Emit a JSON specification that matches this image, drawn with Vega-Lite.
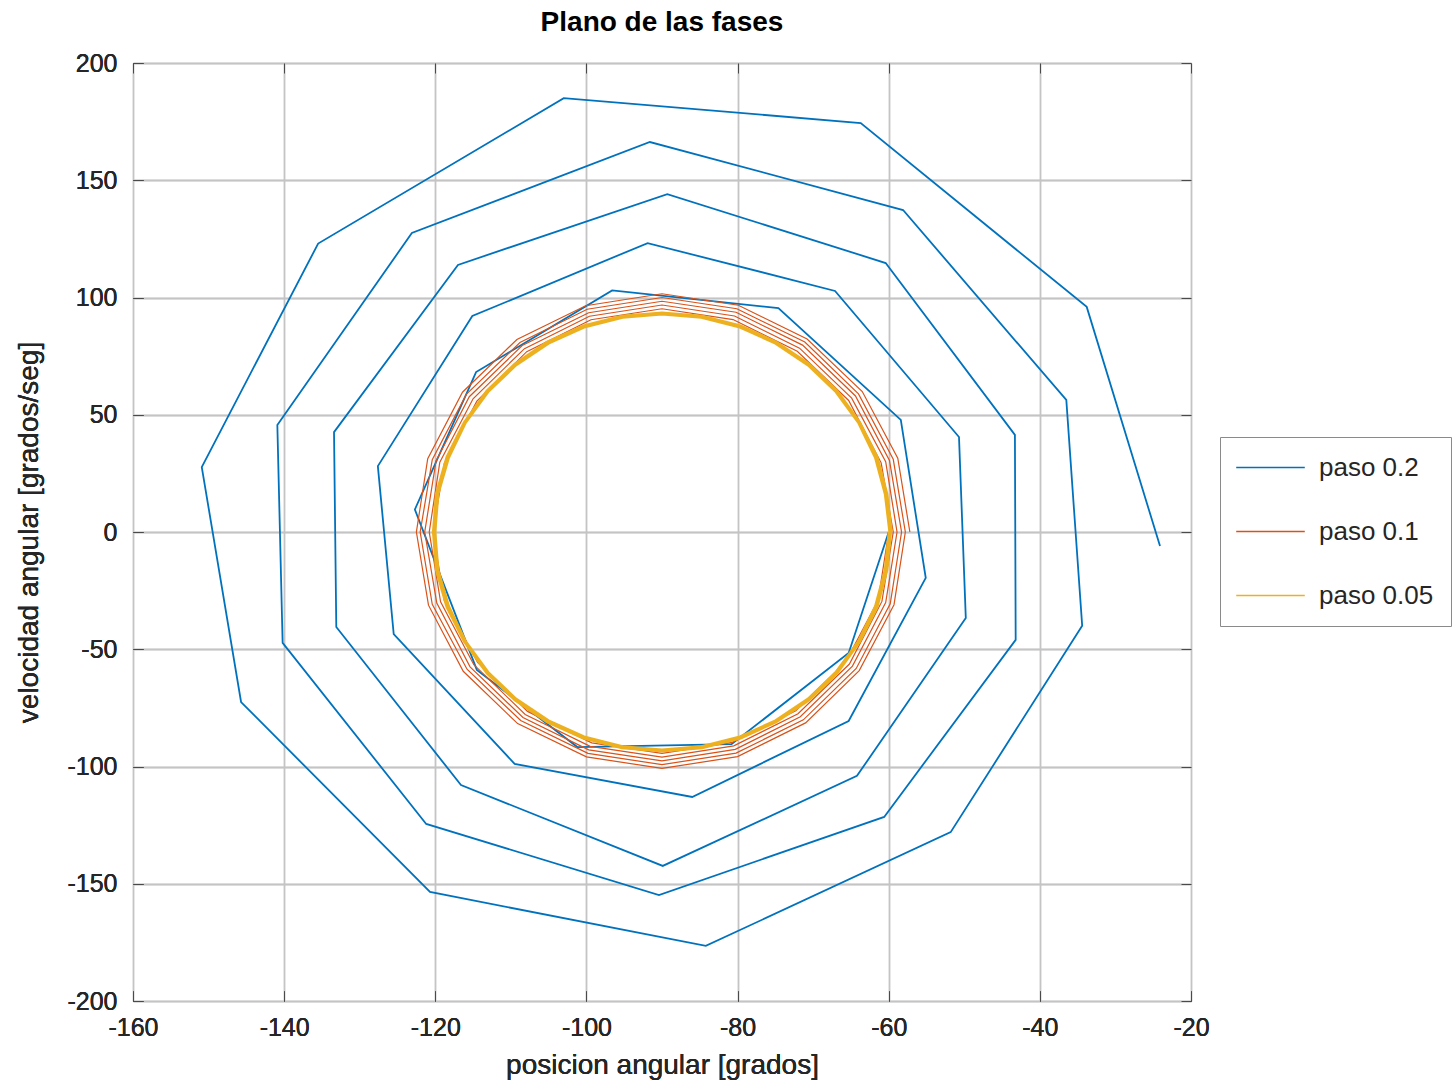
{
  "$schema": "https://vega.github.io/schema/vega-lite/v6.json",
  "width": 1058,
  "height": 938,
  "autosize": {"type": "none"},
  "padding": {"left": 133, "top": 63, "right": 265, "bottom": 80},
  "background": "white",
  "title": {"text": "Plano de las fases", "fontSize": 28, "fontWeight": "bold", "font": "Liberation Sans", "color": "#000000", "anchor": "middle", "frame": "group", "baseline": "alphabetic", "offset": 0, "dy": 8},
  "config": {
    "view": {"stroke": "#4a4a4a", "strokeWidth": 1},
    "axis": {"labelFont": "Liberation Sans", "titleFont": "Liberation Sans", "labelFontSize": 25, "labelColor": "#262626", "titleColor": "#262626", "titleFontSize": 28, "titleFontWeight": "normal", "gridColor": "#c4c4c4", "gridWidth": 1.3, "gridOpacity": 1, "tickColor": "#4a4a4a", "domain": false, "labelFlush": false, "labelExpr": "replace(datum.label, '−', '-')"},
    "legend": {"labelFont": "Liberation Sans"}
  },
  "datasets": {
    "blue": [
      {"i":0,"x":-60,"y":0},{"i":1,"x":-65.3,"y":-51.6},{"i":2,"x":-80.8,"y":-90.5},{"i":3,"x":-101.2,"y":-91.7},{"i":4,"x":-114.5,"y":-58.8},{"i":5,"x":-122.7,"y":9.6},{"i":6,"x":-114.6,"y":68.2},{"i":7,"x":-96.6,"y":103},{"i":8,"x":-74.6,"y":95.5},{"i":9,"x":-58.4,"y":47.8},{"i":10,"x":-55.1,"y":-19.6},{"i":11,"x":-65.3,"y":-80.6},{"i":12,"x":-86,"y":-113},{"i":13,"x":-109.5,"y":-98.9},{"i":14,"x":-125.5,"y":-43.5},{"i":15,"x":-127.6,"y":28.1},{"i":16,"x":-115.1,"y":92.1},{"i":17,"x":-91.9,"y":123.2},{"i":18,"x":-67.1,"y":102.8},{"i":19,"x":-50.7,"y":40.5},{"i":20,"x":-49.8,"y":-36.7},{"i":21,"x":-64.2,"y":-104},{"i":22,"x":-89.9,"y":-142.4},{"i":23,"x":-116.6,"y":-107.9},{"i":24,"x":-133.1,"y":-40.5},{"i":25,"x":-133.4,"y":42.6},{"i":26,"x":-117,"y":113.9},{"i":27,"x":-89.3,"y":144.1},{"i":28,"x":-60.4,"y":114.7},{"i":29,"x":-43.3,"y":41.4},{"i":30,"x":-43.2,"y":-46},{"i":31,"x":-60.6,"y":-121.5},{"i":32,"x":-90.4,"y":-154.8},{"i":33,"x":-121.2,"y":-124.5},{"i":34,"x":-140.2,"y":-47.3},{"i":35,"x":-140.9,"y":45.6},{"i":36,"x":-123.1,"y":127.5},{"i":37,"x":-91.6,"y":166.3},{"i":38,"x":-58.1,"y":137.3},{"i":39,"x":-36.5,"y":56.3},{"i":40,"x":-34.4,"y":-40},{"i":41,"x":-51.8,"y":-128},{"i":42,"x":-84.2,"y":-176.5},{"i":43,"x":-120.7,"y":-153.5},{"i":44,"x":-145.7,"y":-72.5},{"i":45,"x":-150.9,"y":27.7},{"i":46,"x":-135.5,"y":123},{"i":47,"x":-103,"y":185},{"i":48,"x":-63.7,"y":174.4},{"i":49,"x":-33.8,"y":96},{"i":50,"x":-24.1,"y":-6}
    ],
    "orange": [
      {"i":0,"x":-60.0,"y":0},{"i":1,"x":-61.4,"y":-29.1},{"i":2,"x":-65.7,"y":-55.4},{"i":3,"x":-72.3,"y":-76.2},{"i":4,"x":-80.7,"y":-89.7},{"i":5,"x":-90,"y":-94.4},{"i":6,"x":-99.3,"y":-89.9},{"i":7,"x":-107.8,"y":-76.5},{"i":8,"x":-114.4,"y":-55.6},{"i":9,"x":-118.8,"y":-29.3},
      {"i":10,"x":-120.3,"y":0},{"i":11,"x":-118.8,"y":29.3},{"i":12,"x":-114.5,"y":55.8},{"i":13,"x":-107.9,"y":76.9},{"i":14,"x":-99.4,"y":90.5},{"i":15,"x":-90,"y":95.2},{"i":16,"x":-80.6,"y":90.6},{"i":17,"x":-72.1,"y":77.1},{"i":18,"x":-65.3,"y":56.1},{"i":19,"x":-61.0,"y":29.5},
      {"i":20,"x":-59.4,"y":0},{"i":21,"x":-60.9,"y":-29.6},{"i":22,"x":-65.2,"y":-56.3},{"i":23,"x":-72.0,"y":-77.5},{"i":24,"x":-80.5,"y":-91.2},{"i":25,"x":-90,"y":-96.0},{"i":26,"x":-99.5,"y":-91.4},{"i":27,"x":-108.1,"y":-77.8},{"i":28,"x":-114.9,"y":-56.6},{"i":29,"x":-119.3,"y":-29.8},
      {"i":30,"x":-120.8,"y":0},{"i":31,"x":-119.4,"y":29.8},{"i":32,"x":-115.0,"y":56.8},{"i":33,"x":-108.2,"y":78.2},{"i":34,"x":-99.6,"y":92.0},{"i":35,"x":-90,"y":96.8},{"i":36,"x":-80.4,"y":92.1},{"i":37,"x":-71.8,"y":78.4},{"i":38,"x":-64.9,"y":57.1},{"i":39,"x":-60.4,"y":30.0},
      {"i":40,"x":-58.9,"y":0},{"i":41,"x":-60.4,"y":-30.1},{"i":42,"x":-64.8,"y":-57.2},{"i":43,"x":-71.7,"y":-78.8},{"i":44,"x":-80.3,"y":-92.7},{"i":45,"x":-90,"y":-97.6},{"i":46,"x":-99.7,"y":-92.9},{"i":47,"x":-108.4,"y":-79.1},{"i":48,"x":-115.4,"y":-57.5},{"i":49,"x":-119.8,"y":-30.3},
      {"i":50,"x":-121.4,"y":0},{"i":51,"x":-119.9,"y":30.3},{"i":52,"x":-115.5,"y":57.7},{"i":53,"x":-108.5,"y":79.5},{"i":54,"x":-99.7,"y":93.5},{"i":55,"x":-90,"y":98.4},{"i":56,"x":-80.2,"y":93.7},{"i":57,"x":-71.4,"y":79.7},{"i":58,"x":-64.4,"y":58.0},{"i":59,"x":-59.9,"y":30.5},
      {"i":60,"x":-58.3,"y":0},{"i":61,"x":-59.8,"y":-30.6},{"i":62,"x":-64.3,"y":-58.2},{"i":63,"x":-71.3,"y":-80.1},{"i":64,"x":-80.2,"y":-94.3},{"i":65,"x":-90,"y":-99.2},{"i":66,"x":-99.8,"y":-94.4},{"i":67,"x":-108.7,"y":-80.4},{"i":68,"x":-115.8,"y":-58.5},{"i":69,"x":-120.4,"y":-30.8},
      {"i":70,"x":-122.0,"y":0},{"i":71,"x":-120.4,"y":30.8},{"i":72,"x":-115.9,"y":58.7},{"i":73,"x":-108.8,"y":80.8},{"i":74,"x":-99.9,"y":95.0},{"i":75,"x":-90,"y":100.0},{"i":76,"x":-80.1,"y":95.2},{"i":77,"x":-71.1,"y":81.0},{"i":78,"x":-64.0,"y":58.9},{"i":79,"x":-59.4,"y":31.0},
      {"i":80,"x":-57.8,"y":0},{"i":81,"x":-59.3,"y":-31.0},{"i":82,"x":-63.9,"y":-59.1},{"i":83,"x":-71.0,"y":-81.4},{"i":84,"x":-80.0,"y":-95.8},{"i":85,"x":-90,"y":-100.8},{"i":86,"x":-100.0,"y":-95.9},{"i":87,"x":-109.1,"y":-81.7},{"i":88,"x":-116.3,"y":-59.4},{"i":89,"x":-120.9,"y":-31.2},
      {"i":90,"x":-122.5,"y":0},{"i":91,"x":-121.0,"y":31.3},{"i":92,"x":-116.4,"y":59.6},{"i":93,"x":-109.2,"y":82.1},{"i":94,"x":-100.1,"y":96.5},{"i":95,"x":-90,"y":101.6},{"i":96,"x":-79.9,"y":96.7},{"i":97,"x":-70.8,"y":82.3},{"i":98,"x":-63.5,"y":59.9},{"i":99,"x":-58.8,"y":31.5},
      {"i":100,"x":-57.2,"y":0}
    ],
    "yellow": [
      {"i":0,"x":-60,"y":0},{"i":1,"x":-60.5,"y":-16.1},{"i":2,"x":-61.8,"y":-31.7},{"i":3,"x":-64.0,"y":-46.4},{"i":4,"x":-67.0,"y":-59.7},{"i":5,"x":-70.7,"y":-71.1},{"i":6,"x":-75.0,"y":-80.4},{"i":7,"x":-79.7,"y":-87.2},{"i":8,"x":-84.8,"y":-91.4},{"i":9,"x":-90,"y":-92.8},
      {"i":10,"x":-95.2,"y":-91.4},{"i":11,"x":-100.3,"y":-87.2},{"i":12,"x":-105,"y":-80.4},{"i":13,"x":-109.3,"y":-71.1},{"i":14,"x":-113.0,"y":-59.7},{"i":15,"x":-116.0,"y":-46.4},{"i":16,"x":-118.2,"y":-31.7},{"i":17,"x":-119.6,"y":-16.1},{"i":18,"x":-120,"y":0},{"i":19,"x":-119.6,"y":16.1},
      {"i":20,"x":-118.2,"y":31.7},{"i":21,"x":-116.0,"y":46.4},{"i":22,"x":-113.0,"y":59.7},{"i":23,"x":-109.3,"y":71.1},{"i":24,"x":-105,"y":80.4},{"i":25,"x":-100.3,"y":87.2},{"i":26,"x":-95.2,"y":91.4},{"i":27,"x":-90,"y":92.8},{"i":28,"x":-84.8,"y":91.4},{"i":29,"x":-79.7,"y":87.2},
      {"i":30,"x":-75.0,"y":80.4},{"i":31,"x":-70.7,"y":71.1},{"i":32,"x":-67.0,"y":59.7},{"i":33,"x":-64.0,"y":46.4},{"i":34,"x":-61.8,"y":31.7},{"i":35,"x":-60.5,"y":16.1},
      {"i":36,"x":-59.9,"y":0},{"i":37,"x":-60.3,"y":-16.2},{"i":38,"x":-61.7,"y":-31.9},{"i":39,"x":-63.9,"y":-46.6},{"i":40,"x":-66.9,"y":-59.9},{"i":41,"x":-70.6,"y":-71.4},{"i":42,"x":-74.9,"y":-80.7},{"i":43,"x":-79.7,"y":-87.6},{"i":44,"x":-84.8,"y":-91.8},{"i":45,"x":-90,"y":-93.2},
      {"i":46,"x":-95.2,"y":-91.8},{"i":47,"x":-100.3,"y":-87.6},{"i":48,"x":-105.1,"y":-80.7},{"i":49,"x":-109.4,"y":-71.4},{"i":50,"x":-113.1,"y":-59.9},{"i":51,"x":-116.1,"y":-46.6},{"i":52,"x":-118.3,"y":-31.9},{"i":53,"x":-119.7,"y":-16.2},{"i":54,"x":-120.2,"y":0},{"i":55,"x":-119.7,"y":16.2},
      {"i":56,"x":-118.3,"y":31.9},{"i":57,"x":-116.1,"y":46.6},{"i":58,"x":-113.1,"y":59.9},{"i":59,"x":-109.4,"y":71.4},{"i":60,"x":-105.1,"y":80.7},{"i":61,"x":-100.3,"y":87.6},{"i":62,"x":-95.2,"y":91.8},{"i":63,"x":-90,"y":93.2},{"i":64,"x":-84.8,"y":91.8},{"i":65,"x":-79.7,"y":87.6},
      {"i":66,"x":-74.9,"y":80.7},{"i":67,"x":-70.6,"y":71.4},{"i":68,"x":-66.9,"y":59.9},{"i":69,"x":-63.9,"y":46.6},{"i":70,"x":-61.7,"y":31.9},{"i":71,"x":-60.3,"y":16.2},
      {"i":72,"x":-59.7,"y":0},{"i":73,"x":-60.2,"y":-16.3},{"i":74,"x":-61.5,"y":-32.0},{"i":75,"x":-63.8,"y":-46.8},{"i":76,"x":-66.8,"y":-60.2},{"i":77,"x":-70.5,"y":-71.7},{"i":78,"x":-74.9,"y":-81.1},{"i":79,"x":-79.6,"y":-88.0},{"i":80,"x":-84.7,"y":-92.2},{"i":81,"x":-90,"y":-93.6},
      {"i":82,"x":-95.3,"y":-92.2},{"i":83,"x":-100.4,"y":-88.0},{"i":84,"x":-105.2,"y":-81.1},{"i":85,"x":-109.5,"y":-71.7},{"i":86,"x":-113.2,"y":-60.2},{"i":87,"x":-116.2,"y":-46.8},{"i":88,"x":-118.5,"y":-32.0},{"i":89,"x":-119.9,"y":-16.3},{"i":90,"x":-120.3,"y":0},{"i":91,"x":-119.9,"y":16.3},
      {"i":92,"x":-118.5,"y":32.0},{"i":93,"x":-116.2,"y":46.8},{"i":94,"x":-113.2,"y":60.2},{"i":95,"x":-109.5,"y":71.7},{"i":96,"x":-105.2,"y":81.1},{"i":97,"x":-100.4,"y":88.0},{"i":98,"x":-95.3,"y":92.2},{"i":99,"x":-90,"y":93.6},{"i":100,"x":-84.7,"y":92.2},{"i":101,"x":-79.6,"y":88.0},
      {"i":102,"x":-74.9,"y":81.1},{"i":103,"x":-70.5,"y":71.7},{"i":104,"x":-66.8,"y":60.2},{"i":105,"x":-63.8,"y":46.8},{"i":106,"x":-61.5,"y":32.0},{"i":107,"x":-60.2,"y":16.3},{"i":108,"x":-59.6,"y":0}
    ]
  },
  "encoding": {
    "x": {"field": "x", "type": "quantitative", "scale": {"domain": [-160, -20], "nice": false, "zero": false},
      "axis": {"orient": "bottom", "values": [-160,-140,-120,-100,-80,-60,-40,-20], "title": "posicion angular [grados]", "tickSize": -10, "labelPadding": 24, "titlePadding": 11, "grid": true}},
    "y": {"field": "y", "type": "quantitative", "scale": {"domain": [-200, 200], "nice": false, "zero": false},
      "axis": {"orient": "left", "values": [-200,-150,-100,-50,0,50,100,150,200], "title": "velocidad angular [grados/seg]", "tickSize": -10, "labelPadding": 26, "titlePadding": 23, "grid": true}},
    "order": {"field": "i", "type": "quantitative"}
  },
  "layer": [
    {"data": {"name": "blue"}, "mark": {"type": "line", "strokeWidth": 1.8, "clip": true},
     "encoding": {"color": {"datum": "paso 0.2", "type": "nominal",
       "scale": {"domain": ["paso 0.2", "paso 0.1", "paso 0.05"], "range": ["#0072BD", "#D95319", "#EDB120"]},
       "legend": {"title": null, "orient": "none", "legendX": 1087, "legendY": 374, "strokeColor": "#8a8a8a", "fillColor": "white", "padding": 17, "symbolType": "M-2.8,0H2.8", "symbolSize": 600, "symbolOffset": 20, "symbolStrokeWidth": 1.6, "labelFontSize": 26, "labelColor": "#262626", "labelOffset": 35, "rowPadding": 37, "cornerRadius": 0, "labelExpr": "datum.label + '   '"}}}},
    {"data": {"name": "orange"}, "mark": {"type": "line", "strokeWidth": 1.2, "clip": true},
     "encoding": {"color": {"datum": "paso 0.1", "type": "nominal"}}},
    {"data": {"name": "yellow"}, "mark": {"type": "line", "strokeWidth": 2.2, "clip": true},
     "encoding": {"color": {"datum": "paso 0.05", "type": "nominal"}}},
    {"data": {"values": [{"x": -90, "y": 0}]}, "mark": {"type": "point", "opacity": 0},
     "encoding": {"x": {"field": "x", "type": "quantitative", "axis": {"orient": "top", "values": [-160,-140,-120,-100,-80,-60,-40,-20], "labels": false, "title": null, "tickSize": -10, "grid": false}},
                  "y": {"field": "y", "type": "quantitative", "axis": {"orient": "right", "values": [-200,-150,-100,-50,0,50,100,150,200], "labels": false, "title": null, "tickSize": -10, "grid": false}}}}
  ],
  "resolve": {"axis": {"x": "independent", "y": "independent"}}
}
